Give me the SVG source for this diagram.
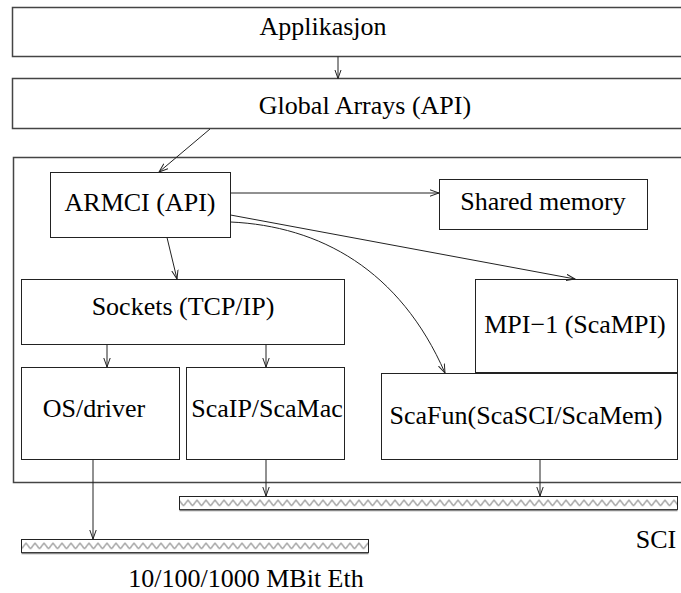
<svg xmlns="http://www.w3.org/2000/svg" width="681" height="593" viewBox="0 0 681 593">
<style>
  .big { fill: #fff; stroke: #444; stroke-width: 1.5; }
  .box { fill: #fff; stroke: #222; stroke-width: 1; }
  .lbl { font-family: "Liberation Serif", "Times New Roman", serif; font-size: 26px; fill: #000; text-anchor: middle; }
  .conn { fill: none; stroke: #222; stroke-width: 1; }
  .bar { fill: url(#zig); stroke: #222; stroke-width: 1; }
  .barbase { stroke: #888; stroke-width: 1.5; }
</style>
<defs>
  <marker id="arr" markerUnits="userSpaceOnUse" markerWidth="10" markerHeight="8" refX="9" refY="4" orient="auto">
    <path d="M0,0.8 L9,4 L0,7.2" fill="none" stroke="#222" stroke-width="1"/>
  </marker>
  <pattern id="zig" patternUnits="userSpaceOnUse" x="21.5" y="496.5" width="9" height="43">
    <path d="M0,9.5 L4.5,3.5 L9,9.5" fill="none" stroke="#444" stroke-width="0.9"/>
  </pattern>
</defs>

<g id="applikasjon">
  <rect class="big" x="12.5" y="7.5" width="690" height="49"/>
  <text class="lbl" x="323" y="35">Applikasjon</text>
</g>
<g id="global-arrays">
  <rect class="big" x="12.5" y="78.5" width="690" height="50"/>
  <text class="lbl" x="365" y="114">Global Arrays (API)</text>
</g>
<g id="container">
  <rect class="big" x="13.5" y="157.5" width="690" height="325"/>
</g>
<g id="armci">
  <rect class="box" x="50.5" y="172.5" width="180" height="65"/>
  <text class="lbl" x="140" y="211">ARMCI (API)</text>
</g>
<g id="shared-memory">
  <rect class="box" x="439.5" y="179.5" width="208" height="50"/>
  <text class="lbl" x="543" y="210">Shared memory</text>
</g>
<g id="sockets">
  <rect class="box" x="21.5" y="279.5" width="323" height="65"/>
  <text class="lbl" x="183" y="315">Sockets (TCP/IP)</text>
</g>
<g id="mpi">
  <rect class="box" x="475.5" y="279.5" width="202" height="93"/>
  <text class="lbl" x="575" y="333">MPI−1 (ScaMPI)</text>
</g>
<g id="os-driver">
  <rect class="box" x="21.5" y="367.5" width="158" height="92"/>
  <text class="lbl" x="94" y="417">OS/driver</text>
</g>
<g id="scaip">
  <rect class="box" x="186.5" y="367.5" width="158" height="92"/>
  <text class="lbl" x="267" y="417">ScaIP/ScaMac</text>
</g>
<g id="scafun">
  <rect class="box" x="381.5" y="373.5" width="296" height="86"/>
  <text class="lbl" x="526" y="424">ScaFun(ScaSCI/ScaMem)</text>
</g>
<g id="sci-bus">
  <rect class="bar" x="179.5" y="496.5" width="498" height="13"/>
  <line class="barbase" x1="179.5" y1="510.5" x2="677.5" y2="510.5"/>
  <text class="lbl" x="656" y="548">SCI</text>
</g>
<g id="eth-bus">
  <rect class="bar" x="21.5" y="539.5" width="347" height="13"/>
  <line class="barbase" x1="21.5" y1="553.5" x2="368.5" y2="553.5"/>
  <text class="lbl" x="246" y="587">10/100/1000 MBit Eth</text>
</g>

<g id="connectors">
  <line class="conn" x1="338" y1="56.5" x2="338" y2="78.5" marker-end="url(#arr)"/>
  <line class="conn" x1="210" y1="129" x2="159" y2="172" marker-end="url(#arr)"/>
  <line class="conn" x1="230.5" y1="193" x2="439" y2="193" marker-end="url(#arr)"/>
  <line class="conn" x1="230.5" y1="215" x2="575" y2="279" marker-end="url(#arr)"/>
  <path class="conn" d="M230.5,222 C320,226 400,270 445,373" marker-end="url(#arr)"/>
  <line class="conn" x1="167" y1="237.5" x2="177" y2="279" marker-end="url(#arr)"/>
  <line class="conn" x1="107" y1="344.5" x2="107" y2="367" marker-end="url(#arr)"/>
  <line class="conn" x1="266" y1="344.5" x2="266" y2="367" marker-end="url(#arr)"/>
  <line class="conn" x1="93" y1="459.5" x2="93" y2="539" marker-end="url(#arr)"/>
  <line class="conn" x1="266" y1="459.5" x2="266" y2="496" marker-end="url(#arr)"/>
  <line class="conn" x1="540" y1="459.5" x2="540" y2="496" marker-end="url(#arr)"/>
</g>
</svg>
